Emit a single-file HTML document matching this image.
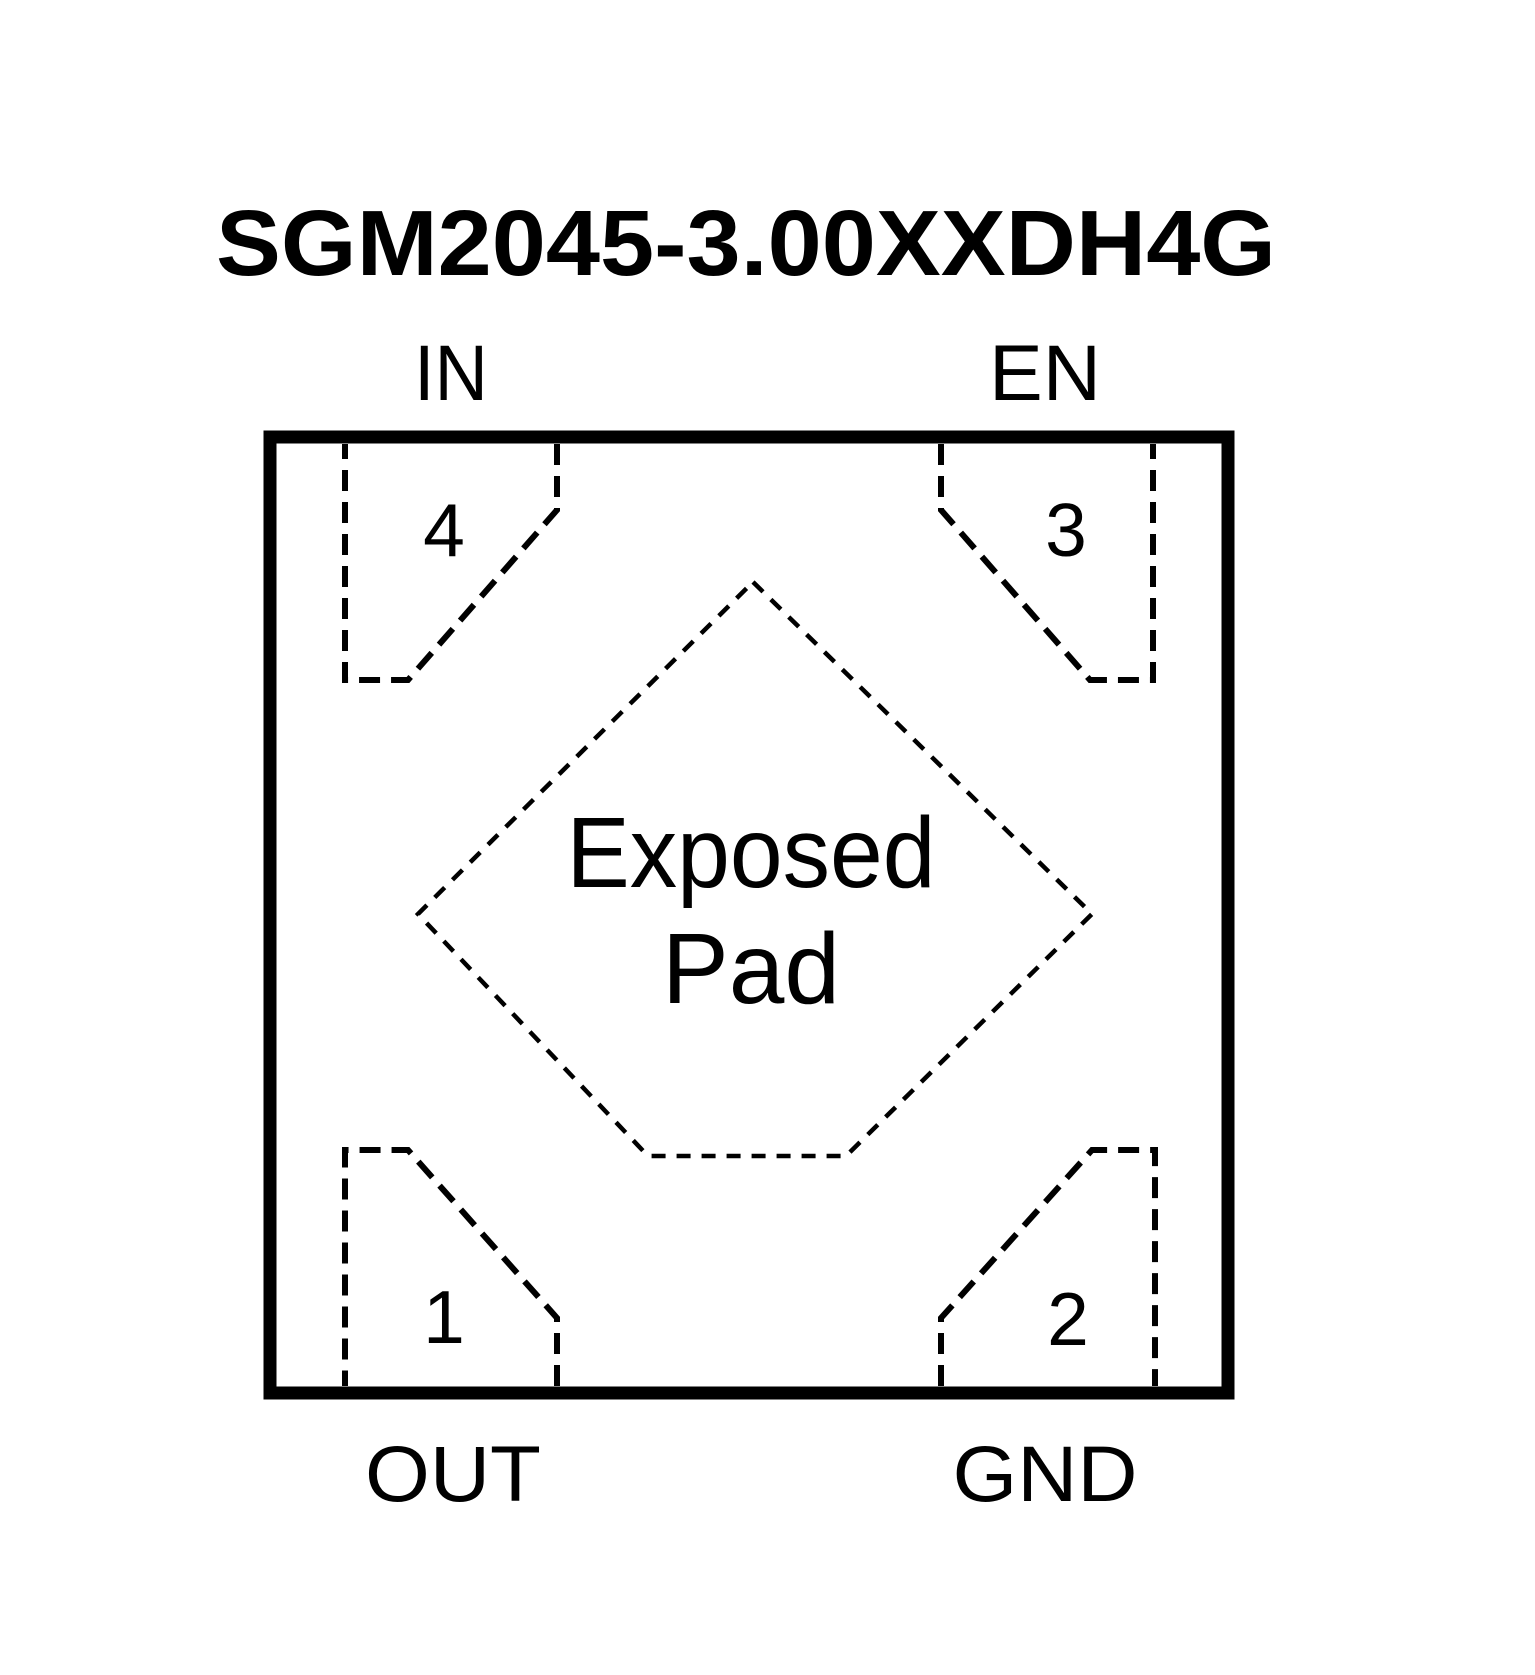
<!DOCTYPE html>
<html><head><meta charset="utf-8"><style>html,body{margin:0;padding:0;background:#fff}svg{display:block}</style></head>
<body>
<svg width="1535" height="1675" viewBox="0 0 1535 1675" xmlns="http://www.w3.org/2000/svg" font-family="'Liberation Sans', Arial, sans-serif">
<rect width="1535" height="1675" fill="#fff"/>
<text x="216" y="275" font-size="93" font-weight="bold" textLength="1060" lengthAdjust="spacingAndGlyphs">SGM2045-3.00XXDH4G</text>
<text x="451" y="400" font-size="79" text-anchor="middle" textLength="74" lengthAdjust="spacingAndGlyphs">IN</text>
<text x="1045" y="400" font-size="79" text-anchor="middle" textLength="112" lengthAdjust="spacingAndGlyphs">EN</text>
<text x="453" y="1501" font-size="79" text-anchor="middle" textLength="176" lengthAdjust="spacingAndGlyphs">OUT</text>
<text x="1045" y="1501" font-size="79" text-anchor="middle" textLength="185" lengthAdjust="spacingAndGlyphs">GND</text>
<rect x="270" y="437" width="958" height="956" fill="none" stroke="#000" stroke-width="13"/>
<g fill="none" stroke="#000" stroke-width="6" stroke-dasharray="21 11">
<path d="M557 444 V510 L408 680 H345 V444"/>
<path d="M941 444 V510 L1090 680 H1153 V444"/>
<path d="M557 1386 V1318 L408 1150 H345 V1386"/>
<path d="M941 1386 V1318 L1092 1150 H1155 V1386"/>
</g>
<path d="M753 582 L1092 914 L846 1156 H648 L418 914 Z" fill="none" stroke="#000" stroke-width="4.5" stroke-dasharray="14 11"/>
<g font-size="75" text-anchor="middle">
<text x="444" y="556">4</text>
<text x="1066" y="556">3</text>
<text x="444" y="1343">1</text>
<text x="1068" y="1345">2</text>
</g>
<text x="751" y="887" font-size="100" text-anchor="middle" textLength="369" lengthAdjust="spacingAndGlyphs">Exposed</text>
<text x="751" y="1003" font-size="100" text-anchor="middle">Pad</text>
</svg>
</body></html>
